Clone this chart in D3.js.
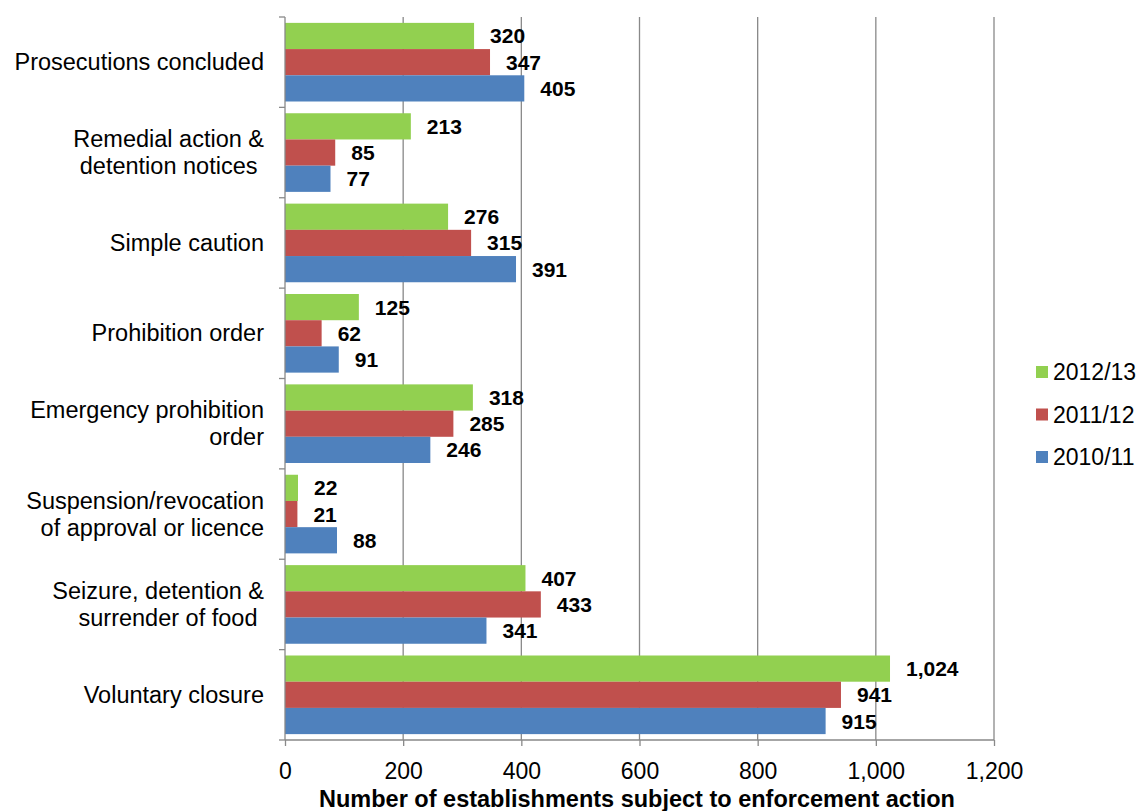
<!DOCTYPE html>
<html><head><meta charset="utf-8">
<script src="https://cdn.jsdelivr.net/npm/d3@7"></script>
<style>body{margin:0;background:#fff;} text{font-family:"Liberation Sans",Arial,sans-serif;}</style>
</head><body><svg id="c" width="1143" height="811"></svg>
<script>
const categories = [
  ["Prosecutions concluded"],
  ["Remedial action &", "detention notices "],
  ["Simple caution"],
  ["Prohibition order"],
  ["Emergency prohibition", "order"],
  ["Suspension/revocation", "of approval or licence"],
  ["Seizure, detention &", "surrender of food "],
  ["Voluntary closure"]
];
const seriesNames = ["2012/13", "2011/12", "2010/11"];
const colors = ["#92D050", "#C0504D", "#4F81BD"];
const v2012 = [320, 213, 276, 125, 318, 22, 407, 1024];
const v2011 = [347, 85, 315, 62, 285, 21, 433, 941];
const v2010 = [405, 77, 391, 91, 246, 88, 341, 915];
const xTicks = [0, 200, 400, 600, 800, 1000, 1200];
const xTitle = "Number of establishments subject to enforcement action";

const series = [v2012, v2011, v2010];
const svg = d3.select("#c");
const L = 285, R = 994, T = 17, B = 740;
const x = d3.scaleLinear().domain([0, 1200]).range([L, R]);
const y = d3.scaleBand().domain(d3.range(categories.length)).range([T, B]).paddingInner(0.13).paddingOuter(0.065);
const yB = d3.scaleBand().domain(d3.range(categories.length)).range([T, B]);
const ys = d3.scaleBand().domain(d3.range(3)).range([0, y.bandwidth()]);

// gridlines
svg.append("g").selectAll("line").data(xTicks.filter(d => d > 0)).join("line")
  .attr("x1", d => x(d)).attr("x2", d => x(d)).attr("y1", T).attr("y2", B)
  .attr("stroke", "#898989").attr("stroke-width", 1.3);

// bars
categories.forEach((c, i) => {
  const g = svg.append("g").attr("transform", `translate(0,${y(i)})`);
  series.forEach((s, j) => {
    g.append("rect").attr("x", x(0)).attr("y", ys(j)).attr("width", x(s[i]) - x(0)).attr("height", ys.bandwidth())
      .attr("fill", colors[j]);
    g.append("text").attr("x", x(s[i]) + 16).attr("y", ys(j) + ys.bandwidth() / 2 + 7.5)
      .attr("font-size", 21).attr("font-weight", "bold").attr("fill", "#000")
      .text(d3.format(",")(s[i]));
  });
});

// x axis
const xAxis = d3.axisBottom(x).tickValues(xTicks).tickFormat(d3.format(",")).tickSize(6).tickPadding(17);
const gx = svg.append("g").attr("transform", `translate(0,${B})`).call(xAxis);
gx.select(".domain").attr("stroke", "#898989").attr("stroke-width", 1.3).attr("d", `M${L},0H${R}`);
gx.selectAll(".tick line").attr("stroke", "#898989").attr("stroke-width", 1.3);
gx.selectAll(".tick text").attr("font-size", 23).attr("fill", "#000").attr("font-family", "Liberation Sans, Arial, sans-serif");

// y axis
svg.append("line").attr("x1", L).attr("x2", L).attr("y1", T).attr("y2", B).attr("stroke", "#898989").attr("stroke-width", 1.3);
svg.append("g").selectAll("line").data(d3.range(categories.length + 1)).join("line")
  .attr("x1", L - 6).attr("x2", L).attr("y1", d => d < categories.length ? yB(d) : B).attr("y2", d => d < categories.length ? yB(d) : B)
  .attr("stroke", "#898989").attr("stroke-width", 1.3);

// category labels
categories.forEach((c, i) => {
  const cy = yB(i) + yB.bandwidth() / 2;
  const t = svg.append("text").attr("text-anchor", "end").attr("font-size", 23.5).attr("fill", "#000").style("white-space", "pre");
  c.forEach((line, k) => {
    t.append("tspan").attr("x", 264).attr("y", cy + 8 + (k - (c.length - 1) / 2) * 27).text(line);
  });
});

// x title
svg.append("text").attr("x", 637).attr("y", 807).attr("text-anchor", "middle")
  .attr("font-size", 23.5).attr("font-weight", "bold").attr("fill", "#000").text(xTitle);

// legend
seriesNames.forEach((n, j) => {
  const ly = 372 + j * 42.5;
  svg.append("rect").attr("x", 1036).attr("y", ly - 6).attr("width", 12).attr("height", 12).attr("fill", colors[j]);
  svg.append("text").attr("x", 1053).attr("y", ly + 8).attr("font-size", 23).attr("fill", "#000").text(n);
});
</script></body></html>
